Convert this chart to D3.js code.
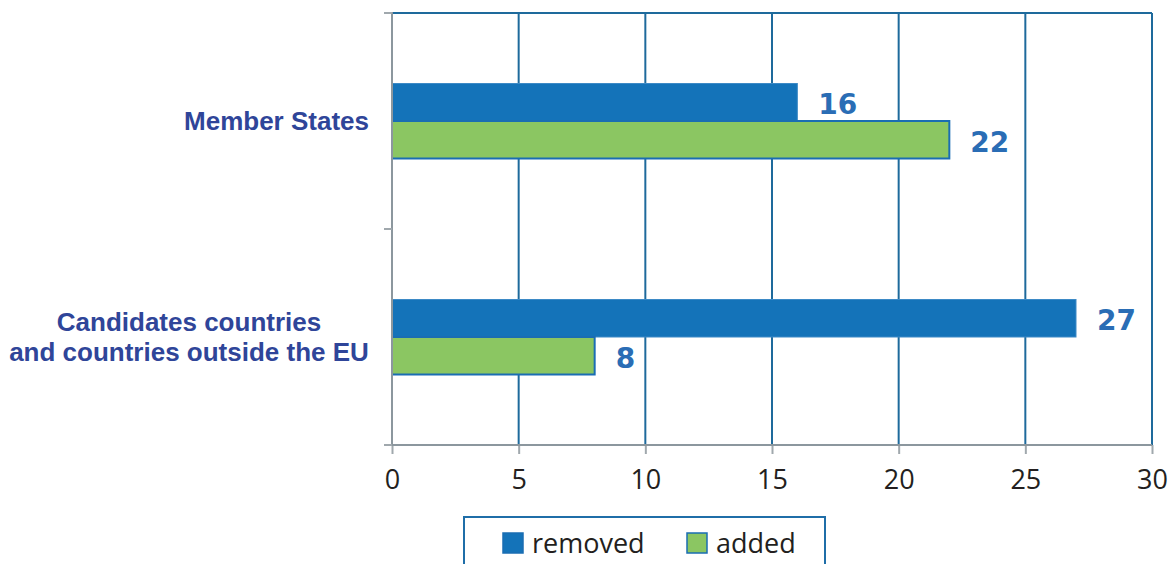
<!DOCTYPE html>
<html><head><meta charset="utf-8">
<script src="https://cdn.jsdelivr.net/npm/d3@7"></script>
<style>body{margin:0;background:#fff}svg{display:block}</style>
</head><body>
<svg id="c" width="1170" height="564"></svg>
<script>
const categories = [["Member States"], ["Candidates countries", "and countries outside the EU"]];
const categoryKeys = ["Member States", "Candidates countries and countries outside the EU"];
const seriesNames = ["removed", "added"];
const removed = [16, 27];
const added = [22, 8];
const xTicks = [0, 5, 10, 15, 20, 25, 30];

const colors = {removed: "#1473b9", added: "#8bc662"};
const svg = d3.select("#c");
const x = d3.scaleLinear().domain([0, 30]).range([392, 1152]);
const y = d3.scaleBand().domain(categoryKeys).range([13, 445]).padding(0);
const y1 = d3.scaleBand().domain(seriesNames).range([0, y.bandwidth()]).paddingInner(0).paddingOuter(1.88);

// gridlines
svg.append("g").selectAll("line").data(xTicks.slice(1)).join("line")
  .attr("x1", d => x(d)).attr("x2", d => x(d)).attr("y1", 13).attr("y2", 445)
  .attr("stroke", "#1e6a9c").attr("stroke-width", 2);
svg.append("line").attr("x1", x(0)).attr("x2", x(30)).attr("y1", 13).attr("y2", 13)
  .attr("stroke", "#1e6a9c").attr("stroke-width", 2);

// bars
const data = categoryKeys.map((k, i) => ({k, removed: removed[i], added: added[i]}));
const g = svg.append("g").selectAll("g").data(data).join("g")
  .attr("transform", d => `translate(0,${y(d.k)})`);
g.selectAll("rect").data(d => seriesNames.map(s => ({s, v: d[s]}))).join("rect")
  .attr("x", x(0)).attr("y", d => y1(d.s)).attr("width", d => x(d.v) - x(0)).attr("height", y1.bandwidth())
  .attr("fill", d => colors[d.s])
  .attr("stroke", d => d.s === "added" ? "#1a6db3" : "#3d8ac6").attr("stroke-width", d => d.s === "added" ? 2 : 1);
g.selectAll("text").data(d => seriesNames.map(s => ({s, v: d[s]}))).join("text")
  .attr("x", d => x(d.v) + 21).attr("y", d => y1(d.s) + y1.bandwidth() / 2)
  .attr("dy", "0.42em")
  .attr("font-family", "DejaVu Sans").attr("font-weight", "bold").attr("font-size", 28)
  .attr("fill", "#2a6db5").text(d => d.v);

// x axis
const xAxis = d3.axisBottom(x).tickValues(xTicks).tickSize(9).tickSizeOuter(0).tickPadding(16);
const xa = svg.append("g").attr("transform", "translate(0,445)").call(xAxis);
xa.select(".domain").remove();
xa.append("line").attr("x1", 384).attr("x2", x(30)).attr("y1", 0).attr("y2", 0).attr("stroke", "#8c979e").attr("stroke-width", 2);
xa.selectAll(".tick line").attr("stroke", "#a0a8ad").attr("stroke-width", 2);
xa.selectAll(".tick text").attr("font-family", "Open Sans").attr("font-size", 27).attr("fill", "#231f20");

// y axis
const ya = svg.append("g");
ya.append("line").attr("x1", x(0)).attr("x2", x(0)).attr("y1", 12).attr("y2", 446).attr("stroke", "#8c979e").attr("stroke-width", 2);
ya.selectAll("line.t").data([13, 229, 445]).join("line").attr("class", "t")
  .attr("x1", 384).attr("x2", x(0)).attr("y1", d => d).attr("y2", d => d)
  .attr("stroke", "#a0a8ad").attr("stroke-width", 2);
const labels = ya.selectAll("text").data(categoryKeys).join("text")
  .attr("x", 369).attr("y", d => y(d) + y.bandwidth() / 2)
  .attr("text-anchor", "end")
  .attr("font-family", "Liberation Sans, Arial").attr("font-weight", "bold").attr("font-size", 26)
  .attr("fill", "#2f4599");
labels.each(function(d, i) {
  const lines = categories[i];
  const t = d3.select(this);
  lines.forEach((l, j) => {
    t.append("tspan").attr("x", i === 1 ? 189 : 369).attr("text-anchor", i === 1 ? "middle" : "end")
      .attr("dy", j === 0 ? `${0.36 - (lines.length - 1) * 0.575}em` : "1.15em").text(l);
  });
});

// legend
const lg = svg.append("g");
lg.append("rect").attr("x", 464).attr("y", 517).attr("width", 361).attr("height", 60)
  .attr("fill", "#fff").attr("stroke", "#1f6ea8").attr("stroke-width", 2);
const lx = [503, 687];
seriesNames.forEach((s, i) => {
  lg.append("rect").attr("x", lx[i]).attr("y", 533).attr("width", 20).attr("height", 20)
    .attr("fill", colors[s]).attr("stroke", "#1a6db3").attr("stroke-width", 1.5);
  lg.append("text").attr("x", lx[i] + 29).attr("y", 553)
    .attr("font-family", "Open Sans").attr("font-size", 27).attr("fill", "#231f20").text(s);
});
</script>
</body></html>
